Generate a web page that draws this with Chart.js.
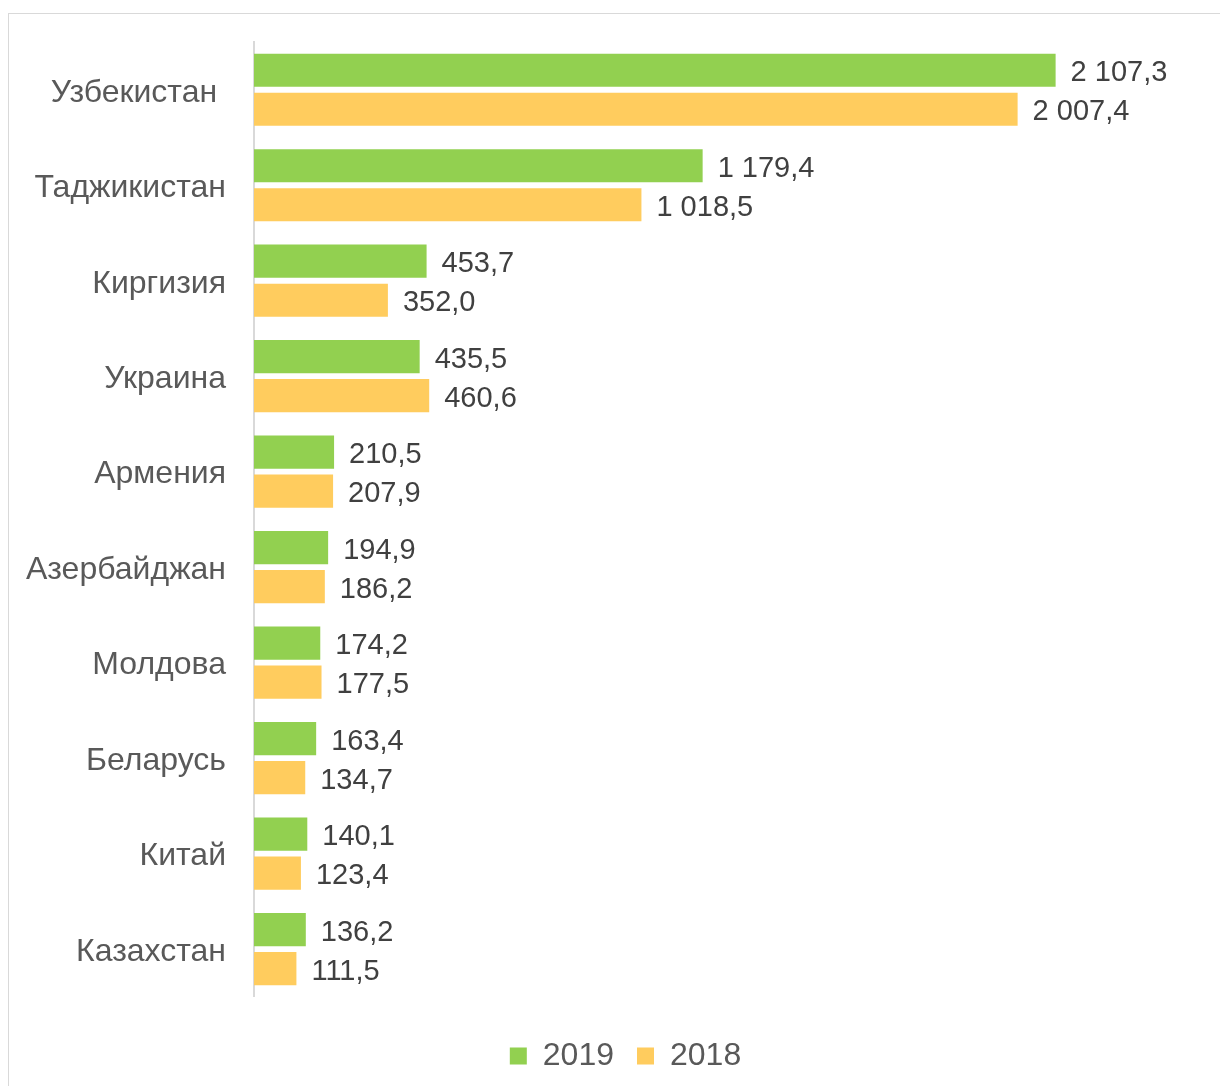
<!DOCTYPE html>
<html>
<head>
<meta charset="utf-8">
<script src="https://cdn.jsdelivr.net/npm/chart.js@4"></script>
<style>
  html, body { margin: 0; padding: 0; background: #fff; overflow: hidden; }
  #frame { position: absolute; left: 8px; top: 13px; width: 1240px; height: 1100px; border: 1px solid #D9D9D9; }
  #wrap { position: absolute; left: 0; top: 0; width: 1220px; height: 1086px; }
</style>
</head>
<body>
<div id="frame"></div>
<div id="wrap"><canvas id="migranty"></canvas></div>
<script>
const labels = [
    "Узбекистан ",
    "Таджикистан",
    "Киргизия",
    "Украина",
    "Армения",
    "Азербайджан",
    "Молдова",
    "Беларусь",
    "Китай",
    "Казахстан",
];
const values2019 = [2107.3, 1179.4, 453.7, 435.5, 210.5, 194.9, 174.2, 163.4, 140.1, 136.2];
const values2018 = [2007.4, 1018.5, 352.0, 460.6, 207.9, 186.2, 177.5, 134.7, 123.4, 111.5];

// 2 107,3 style
function formatValue(v) {
    const parts = v.toFixed(1).split('.');
    const int = parts[0].replace(/\B(?=(\d{3})+(?!\d))/g, ' ');
    return int + ',' + parts[1];
}

const valueLabels = {
    id: 'valueLabels',
    afterLayout(chart) {
        // legend sits a bit right of centre in the original
        chart.legend.left += 23;
        chart.legend.right += 23;
    },
    afterDatasetsDraw(chart) {
        const c = chart.ctx;
        c.save();
        c.font = '29px "Liberation Sans", Arial, sans-serif';
        c.fillStyle = '#404040';
        c.textAlign = 'left';
        c.textBaseline = 'middle';
        chart.data.datasets.forEach((ds, i) => {
            chart.getDatasetMeta(i).data.forEach((bar, j) => {
                c.fillText(formatValue(ds.data[j]), bar.x + 15, bar.y + 3);
            });
        });
        c.restore();
    }
};

const ctx = document.getElementById('migranty').getContext('2d');

chart_migranty = new Chart(ctx, {
    type: 'bar',
    data: {
        labels: labels,
        datasets: [{
            label: '2019',
            data: values2019,
            backgroundColor: '#92D050',
            categoryPercentage: 0.817,
            barPercentage: 0.85
        }, {
            label: '2018',
            data: values2018,
            backgroundColor: '#FFCC5E',
            categoryPercentage: 0.817,
            barPercentage: 0.85
        }]
    },
    options: {
        indexAxis: 'y',
        responsive: true,
        maintainAspectRatio: false,
        animation: false,
        layout: {
            padding: { top: 42, right: 15, bottom: 4, left: 0 }
        },
        scales: {
            x: {
                display: false,
                min: 0,
                max: 2500
            },
            y: {
                grid: { display: false, drawTicks: false },
                border: { display: true, color: '#D9D9D9', width: 2 },
                ticks: {
                    color: '#595959',
                    padding: 28,
                    labelOffset: 3,
                    font: { family: '"Liberation Sans", Arial, sans-serif', size: 32 }
                },
                afterFit: function (scale) {
                    scale.width = 254;
                    scale.paddingTop = 0;
                    scale.paddingBottom = 0;
                }
            }
        },
        plugins: {
            legend: {
                position: 'bottom',
                title: {
                    display: true,
                    text: '',
                    font: { size: 1 },
                    padding: { top: 19, bottom: 0 }
                },
                labels: {
                    color: '#595959',
                    boxWidth: 17,
                    boxHeight: 17,
                    padding: 23,
                    font: { family: '"Liberation Sans", Arial, sans-serif', size: 32 }
                }
            },
            tooltip: { enabled: false }
        }
    },
    plugins: [valueLabels]
});
</script>
</body>
</html>
